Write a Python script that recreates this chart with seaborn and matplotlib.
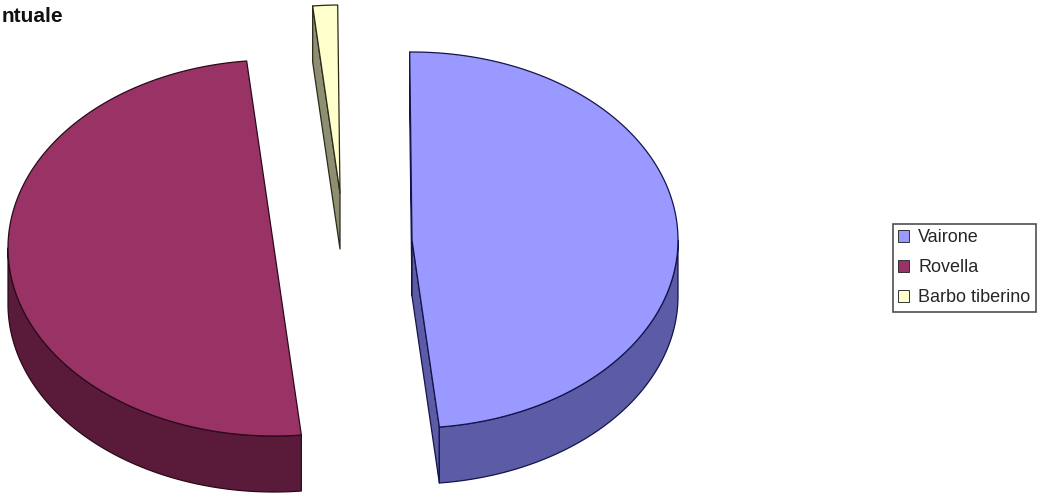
import numpy as np
import matplotlib
matplotlib.use("Agg")
import matplotlib.pyplot as plt
from matplotlib.patches import Polygon, Patch
import seaborn as sns

# Data
species = ["Vairone", "Rovella", "Barbo tiberino"]
shares = [48.5, 50.0, 1.5]

# Styles
top_colors = ["#9999FF", "#993366", "#FFFFCC"]
side_colors = ["#5B5BA6", "#5A1B3B", "#8E8E72"]
edge_colors = ["#14144a", "#2a0a1a", "#2a2a1a"]

# Layout (pixel space of the figure)
W, H = 1045, 497
a, b, depth = 266, 188, 56          # ellipse radii and slab thickness
start = 90.5                         # first slice starts here, slices run clockwise
centers = [(412, 240), (274, 248), (340, 193)]   # exploded slice centres

sns.set_theme(style="white")
plt.rcParams["font.family"] = ["Liberation Sans", "DejaVu Sans"]

fig = plt.figure(figsize=(W / 100, H / 100), dpi=100)
ax = fig.add_axes([0, 0, 1, 1])
ax.set_xlim(0, W)
ax.set_ylim(H, 0)
ax.axis("off")


def rim(cx, cy, t, dz=0.0):
    t = np.radians(np.atleast_1d(t))
    return np.column_stack([cx + a * np.cos(t), cy - b * np.sin(t) + dz])


fracs = np.asarray(shares) / np.sum(shares)
bounds = start - 360 * np.concatenate([[0], np.cumsum(fracs)])

for i in range(len(species)):
    t0, t1 = bounds[i], bounds[i + 1]   # t0 > t1 (clockwise)
    cx, cy = centers[i]
    style = dict(edgecolor=edge_colors[i], lw=0.9, joinstyle="round")

    # radial side faces that turn towards the viewer
    for te, normal in [(t0, t0 + 90), (t1, t1 - 90)]:
        if np.sin(np.radians(normal)) < 0:
            p = rim(cx, cy, te)[0]
            quad = [(cx, cy), tuple(p), (p[0], p[1] + depth), (cx, cy + depth)]
            ax.add_patch(Polygon(quad, closed=True, facecolor=side_colors[i],
                                 zorder=2, **style))

    # outer curved wall on the front half of the ellipse
    for k in range(-2, 2):
        lo = max(t1, -180 + 360 * k)
        hi = min(t0, 0 + 360 * k)
        if hi - lo > 0.01:
            ts = np.linspace(lo, hi, 120)
            upper = rim(cx, cy, ts)
            lower = rim(cx, cy, ts[::-1], depth)
            ax.add_patch(Polygon(np.vstack([upper, lower]), closed=True,
                                 facecolor=side_colors[i], zorder=2, **style))

    # top face
    ts = np.linspace(t0, t1, 300)
    face = np.vstack([[cx, cy], rim(cx, cy, ts)])
    ax.add_patch(Polygon(face, closed=True, facecolor=top_colors[i],
                         zorder=3, **style))

ax.text(2, 17, "ntuale", fontsize=15, fontweight="bold", color="#111111",
        ha="left", va="center")

handles = [Patch(facecolor=c, edgecolor="#333333", lw=0.7) for c in top_colors]
leg = ax.legend(handles, species, loc="upper left",
                bbox_to_anchor=(893 / W, 1 - 224 / H), frameon=True,
                fancybox=False, edgecolor="#222222", fontsize=13,
                handlelength=0.6, handleheight=0.6, handletextpad=0.5,
                labelspacing=0.72, borderpad=0.3, borderaxespad=0)
leg.get_frame().set_linewidth(1.2)

fig.savefig("out.png", dpi=100, facecolor="white")
